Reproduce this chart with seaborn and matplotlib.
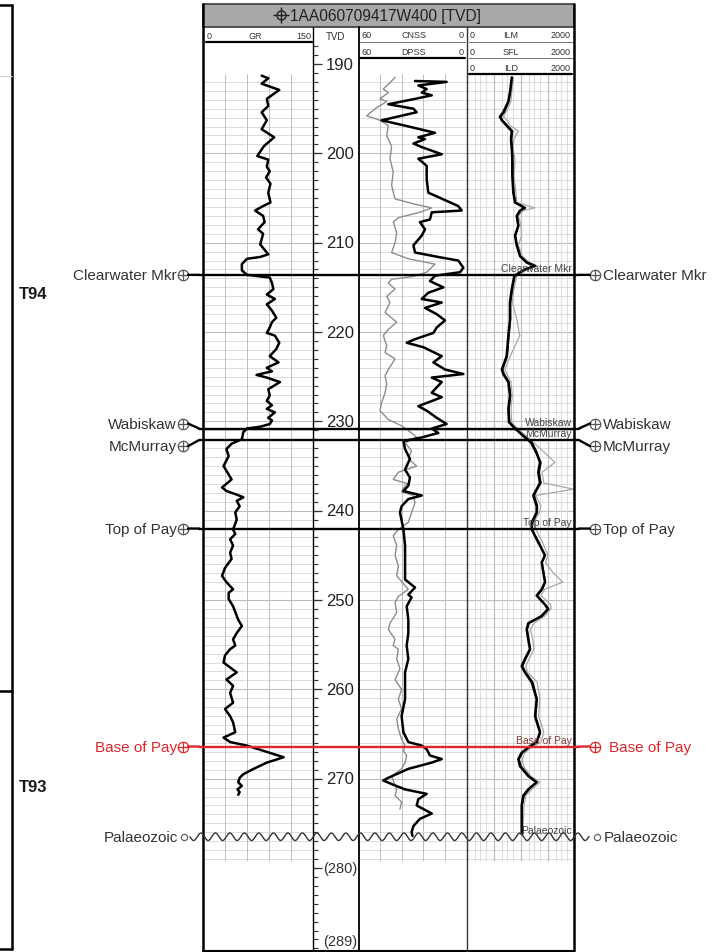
import numpy as np
import matplotlib
matplotlib.use("Agg")
import matplotlib.pyplot as plt
from matplotlib.patches import Rectangle
from matplotlib.transforms import blended_transform_factory, ScaledTranslation
import seaborn as sns

# ---------------- log curves (depth in m TVD) ----------------
gr_depth = [191.3, 191.6, 192.2, 192.9, 193.9, 194.7, 195.4, 196.3, 197.3, 198.2,
            199.2, 200.3, 200.7, 201.5, 202.0, 202.7, 203.4, 204.4, 205.5, 205.9,
            206.4, 207.0, 207.7, 208.5, 209.0, 210.2, 211.3, 211.6, 211.8, 212.4,
            213.1, 213.6, 213.9, 214.5, 215.2, 215.8, 216.3, 216.9, 217.6, 218.4,
            218.9, 219.5, 220.1, 220.4, 221.2, 221.9, 222.7, 223.4, 224.0, 224.4,
            224.8, 225.1, 225.6, 226.4, 227.1, 227.7, 228.2, 228.6, 229.0, 229.6,
            229.9, 230.3, 230.6, 230.8, 231.2, 232.0, 232.5, 233.1, 233.9, 235.0,
            236.5, 237.4, 237.8, 238.2, 238.5, 238.9, 239.5, 240.2, 241.0, 242.1,
            242.6, 243.2, 243.9, 244.7, 245.4, 246.4, 247.3, 248.0, 248.8, 249.2,
            249.9, 250.7, 252.2, 252.9, 253.7, 254.4, 255.1, 255.5, 256.2, 257.0,
            258.1, 258.9, 259.6, 260.4, 261.5, 262.2, 263.0, 263.7, 264.8, 265.4,
            265.9, 266.3, 267.0, 267.6, 268.2, 268.9, 269.5, 269.9, 270.4, 270.8,
            271.2, 271.5, 271.8]
gr_api = [80, 89, 80, 104, 87, 89, 80, 87, 80, 97,
          83, 74, 89, 87, 91, 86, 92, 89, 92, 82,
          71, 82, 84, 75, 82, 78, 89, 78, 60, 53,
          53, 60, 91, 94, 96, 87, 98, 87, 94, 100,
          94, 91, 87, 98, 104, 100, 91, 103, 87, 94,
          73, 87, 105, 89, 91, 87, 94, 87, 98, 89,
          94, 91, 78, 60, 55, 53, 39, 32, 35, 28,
          39, 26, 32, 46, 55, 46, 50, 44, 46, 41,
          44, 37, 41, 37, 39, 30, 26, 32, 41, 35,
          35, 41, 48, 53, 46, 41, 44, 37, 30, 28,
          46, 32, 41, 37, 41, 30, 37, 41, 44, 28,
          37, 60, 87, 110, 87, 69, 55, 50, 48, 53,
          47, 50, 48]

dpss_depth = [191.9, 192.0, 192.4, 192.8, 193.2, 193.5, 193.9, 194.5, 195.0, 195.4,
              196.3, 196.9, 197.7, 198.2, 198.4, 198.9, 199.3, 200.1, 200.6, 201.4,
              202.9, 204.4, 205.9, 206.4, 206.6, 207.4, 207.7, 208.5, 209.2, 210.3,
              211.1, 211.6, 212.0, 212.8, 213.3, 213.7, 214.3, 215.0, 215.6, 216.3,
              216.7, 217.3, 218.0, 218.7, 219.5, 220.1, 220.8, 221.2, 221.7, 222.7,
              223.4, 224.2, 224.7, 225.1, 225.6, 226.2, 226.8, 227.3, 228.3, 228.8,
              229.6, 230.3, 230.8, 231.3, 231.8, 232.2, 233.1, 234.2, 235.4, 236.3,
              237.2, 237.8, 238.3, 238.7, 239.5, 240.2, 241.1, 242.1, 243.9, 245.8,
              247.7, 248.6, 249.4, 249.7, 250.7, 252.2, 253.7, 255.1, 256.6, 258.1,
              259.2, 261.1, 263.0, 264.8, 265.9, 266.3, 266.7, 267.4, 267.8, 268.2,
              268.9, 269.9, 270.2, 270.6, 271.2, 271.7, 272.3, 273.0, 273.9, 274.5,
              275.3, 276.0, 276.4]
dpss = [28.6, 11.2, 26.8, 22.2, 24.9, 19.4, 28.6, 43.3, 29.5, 27.7,
        47.0, 34.1, 17.6, 26.8, 23.1, 29.5, 24.9, 13.9, 26.8, 22.2,
        22.2, 21.3, 4.8, 2.9, 19.4, 20.4, 25.9, 23.1, 24.9, 29.5,
        28.6, 15.8, 4.8, 2.0, 3.8, 17.6, 20.4, 13.0, 21.3, 24.9,
        13.9, 23.1, 16.7, 12.1, 16.7, 18.5, 28.6, 33.2, 24.0, 13.9,
        18.5, 12.1, 2.0, 19.4, 13.9, 16.7, 19.4, 13.9, 26.8, 22.2,
        16.7, 11.2, 19.4, 15.8, 24.9, 35.0, 34.1, 31.4, 34.1, 31.4,
        32.3, 35.0, 24.9, 32.3, 36.0, 36.9, 36.0, 35.0, 34.1, 34.1,
        34.1, 28.6, 32.3, 30.5, 33.2, 32.3, 32.3, 33.2, 32.3, 34.1,
        34.1, 34.1, 36.0, 35.0, 32.3, 24.9, 22.2, 20.4, 13.9, 19.4,
        32.3, 43.3, 46.1, 41.5, 34.1, 22.2, 26.8, 27.7, 19.4, 25.9,
        29.5, 30.5, 30.0]

cnss_depth = [191.5, 191.9, 192.8, 193.2, 193.9, 194.2, 195.0, 195.8, 196.3, 196.9,
              198.0, 199.2, 200.6, 202.1, 203.6, 205.1, 205.7, 206.1, 206.6, 207.2,
              207.7, 208.9, 210.0, 211.1, 211.8, 212.4, 213.3, 213.8, 214.1, 214.5,
              215.2, 216.0, 216.7, 217.8, 218.9, 219.7, 220.4, 221.5, 222.3, 223.0,
              224.2, 224.9, 225.8, 226.8, 227.9, 228.8, 229.8, 230.5, 231.3, 231.8,
              232.4, 233.3, 234.2, 235.0, 235.7, 236.5, 237.0, 237.2, 237.9, 238.3,
              239.1, 240.2, 241.3, 242.1, 242.8, 243.9, 245.0, 246.2, 247.3, 248.8,
              249.6, 250.3, 251.4, 252.6, 253.3, 254.4, 255.1, 255.5, 256.6, 257.7,
              258.9, 260.0, 261.1, 262.2, 263.3, 264.4, 265.6, 266.3, 266.9, 267.4,
              268.2, 268.9, 269.7, 270.2, 271.2, 271.9, 272.6, 273.4]
cnss = [39.6, 41.5, 46.1, 43.3, 47.9, 44.2, 50.6, 55.2, 47.9, 43.3,
        44.2, 41.5, 42.4, 40.6, 41.5, 39.6, 28.6, 19.4, 25.9, 37.8,
        40.6, 38.7, 39.6, 41.5, 32.3, 17.6, 22.2, 30.0, 41.5, 43.3,
        39.6, 44.2, 42.4, 45.1, 38.7, 43.3, 46.1, 44.2, 45.1, 39.6,
        43.3, 45.1, 44.2, 45.1, 47.0, 47.9, 43.3, 36.0, 30.5, 27.7,
        34.1, 30.5, 32.3, 27.7, 37.8, 40.6, 32.3, 34.1, 36.0, 29.5,
        28.6, 30.5, 32.3, 37.8, 40.6, 38.7, 39.6, 37.8, 38.7, 32.3,
        37.8, 39.6, 38.7, 42.4, 43.3, 39.6, 40.6, 37.8, 38.7, 36.9,
        39.6, 36.0, 37.8, 36.0, 38.7, 37.8, 36.0, 34.1, 35.0, 33.2,
        34.1, 36.0, 41.5, 40.6, 38.7, 39.6, 36.0, 36.9]

res_depth = [191.5, 193.2, 194.2, 195.4, 195.9, 196.3, 196.9, 197.5, 198.4, 199.5,
             200.6, 202.5, 204.4, 205.5, 206.1, 206.4, 207.0, 208.1, 209.2, 210.3,
             211.5, 212.2, 212.6, 213.0, 213.7, 215.2, 216.7, 218.6, 220.4, 222.7,
             224.2, 224.7, 225.6, 227.1, 228.6, 230.1, 230.8, 231.6, 232.4, 233.5,
             234.6, 235.7, 236.9, 237.6, 238.3, 239.5, 240.2, 241.3, 242.1, 243.2,
             243.9, 245.0, 245.8, 246.9, 248.0, 248.8, 249.5, 250.5, 251.0, 251.8,
             252.6, 253.3, 254.4, 255.5, 256.6, 257.4, 258.1, 259.2, 261.1, 263.0,
             264.8, 265.9, 266.5, 267.1, 267.8, 268.6, 269.7, 270.4, 271.2, 271.9,
             273.0, 274.1, 275.3, 276.2]
ild = [9.1, 7.8, 6.8, 4.4, 3.3, 3.9, 5.9, 9.1, 8.5, 9.1,
       9.5, 9.5, 10.4, 12.0, 28, 18.4, 13.9, 15.9, 12.0, 13.9,
       18.4, 32.5, 66, 28, 11.3, 9.1, 7.8, 7.8, 6.8, 5.9,
       3.9, 4.4, 6.8, 7.8, 6.8, 7.2, 12, 24.3, 50, 76,
       101, 87, 101, 76, 57, 76, 76, 50, 50, 76,
       101, 155, 117, 134, 155, 117, 76, 155, 205, 117,
       37, 32.5, 37, 43, 28, 21.2, 28, 50, 76, 66,
       101, 76, 37, 21.2, 15.9, 18.4, 37, 76, 37, 24.3,
       21.2, 21.2, 21.2, 21.2]
ilm = [9.5, 8.0, 7.0, 4.8, 3.6, 4.2, 6.3, 9.8, 9.0, 9.6,
       10.0, 10.0, 11.0, 12.5, 25, 19.5, 14.5, 16.5, 12.5, 14.5,
       19.0, 30, 55, 27, 12.0, 9.6, 8.2, 8.2, 7.2, 6.2,
       4.2, 4.8, 7.2, 8.2, 7.2, 7.6, 12.5, 22, 45, 70,
       110, 95, 110, 80, 62, 82, 80, 55, 52, 80,
       105, 150, 120, 140, 160, 125, 82, 150, 190, 110,
       40, 34, 39, 45, 30, 23, 30, 55, 80, 70,
       105, 80, 40, 23, 17, 20, 40, 70, 40, 26,
       22, 22, 22, 22]
sfl = [10.5, 9.0, 8.5, 5.5, 4.5, 6.0, 8.0, 16, 11, 10,
       12, 11, 13, 14, 66, 24, 16, 20, 21, 16,
       22, 40, 80, 35, 14, 11, 9.5, 14, 18, 8,
       5, 6, 8.5, 9.5, 8.5, 9, 15, 30, 60, 150,
       360, 120, 140, 1800, 70, 110, 95, 60, 70, 110,
       140, 200, 160, 300, 700, 150, 110, 250, 260, 150,
       60, 45, 55, 60, 40, 30, 35, 80, 100, 90,
       140, 110, 50, 28, 22, 25, 45, 100, 50, 30,
       26, 25, 24, 24]

# ---------------- picks, zones, depth scale labels ----------------
tops_names = ["Clearwater Mkr", "Wabiskaw", "McMurray", "Top of Pay", "Base of Pay", "Palaeozoic"]
tops_depth = [213.6, 230.8, 232.1, 242.0, 266.4, 276.5]
zone_names = ["T94", "T93"]
zone_label_depth = [215.7, 270.9]
zone_boundary_depth = 260.2
tvd_labels = [190, 200, 210, 220, 230, 240, 250, 260, 270]
tvd_bracket_labels = ["(280)", "(289)"]
tvd_bracket_depth = [280, 289]
well_name = "1AA060709417W400 [TVD]"

# ---------------- layout ----------------
W, H = 719, 953
TOP_PX, BOT_PX = 46, 952
D_TOP, D_BOT = 187.87, 289.29
GRID_TOP, GRID_BOT = 191.1, 279.2

sns.set_style("white")
plt.rcParams["font.family"] = ["Liberation Sans", "DejaVu Sans"]

fig = plt.figure(figsize=(W / 100, H / 100), dpi=100)
fig.patch.set_facecolor("white")


def track(x0, x1):
    ax = fig.add_axes([x0 / W, 1 - BOT_PX / H, (x1 - x0) / W, (BOT_PX - TOP_PX) / H])
    ax.set_facecolor("none")
    return ax


ax_gr = track(203, 313)
ax_tvd = track(313, 358)
ax_nd = track(358, 467)
ax_res = track(467, 575)
ax_res.set_xscale("log")

limits = {ax_gr: (0, 150), ax_tvd: (0, 1), ax_nd: (60, 0), ax_res: (0.2, 2000)}
for ax, xl in limits.items():
    ax.set_xlim(*xl)
    ax.set_ylim(D_BOT, D_TOP)

GRID_C = "#d6d6d6"
GRID_C2 = "#bdbdbd"
rows = np.arange(192, 280)
for ax in (ax_gr, ax_nd, ax_res):
    lo, hi = ax.get_xlim()
    ax.hlines(rows, lo, hi, color=GRID_C, lw=0.6, zorder=0)
    ax.hlines(rows[rows % 10 == 0], lo, hi, color=GRID_C2, lw=0.8, zorder=0)
ax_gr.vlines([30, 60, 90, 120], GRID_TOP, GRID_BOT, color=GRID_C2, lw=0.7, zorder=0)
ax_nd.vlines([12, 24, 36, 48], GRID_TOP, GRID_BOT, color=GRID_C2, lw=0.7, zorder=0)
for dec in (0.2, 2, 20, 200):
    for m in (1, 2, 3, 5):
        v = dec * m
        if 0.2 < v < 2000:
            strong = m == 1
            ax_res.vlines(v, GRID_TOP, GRID_BOT, color=GRID_C2 if strong else GRID_C,
                          lw=0.9 if strong else 0.6, zorder=0)

# curves
sns.lineplot(x=gr_api, y=gr_depth, orient="y", sort=False, estimator=None,
             ax=ax_gr, color="black", lw=1.8)
sns.lineplot(x=cnss, y=cnss_depth, orient="y", sort=False, estimator=None,
             ax=ax_nd, color="#8c8c8c", lw=1.0)
sns.lineplot(x=dpss, y=dpss_depth, orient="y", sort=False, estimator=None,
             ax=ax_nd, color="black", lw=1.8)
sns.lineplot(x=sfl, y=res_depth, orient="y", sort=False, estimator=None,
             ax=ax_res, color="#a8a8a8", lw=0.9)
sns.lineplot(x=ilm, y=res_depth, orient="y", sort=False, estimator=None,
             ax=ax_res, color="#222222", lw=1.1)
sns.lineplot(x=ild, y=res_depth, orient="y", sort=False, estimator=None,
             ax=ax_res, color="black", lw=1.8)

# TVD depth ticks and labels
ticks = np.arange(188, 290)
ax_tvd.hlines(ticks, 0, 5 / 45, color="#333333", lw=0.8)
ax_tvd.hlines(tvd_labels + [280], 0, 9 / 45, color="#333333", lw=0.9)
for d in tvd_labels:
    ax_tvd.text(13 / 45, d, str(d), ha="left", va="center", fontsize=12, color="#222222")
ax_tvd.text(10 / 45, tvd_bracket_depth[0], tvd_bracket_labels[0], ha="left", va="center",
            fontsize=10.5, color="#333333")
ax_tvd.text(10 / 45, tvd_bracket_depth[1], tvd_bracket_labels[1], ha="left", va="bottom",
            fontsize=10.5, color="#333333")

for ax, xl in limits.items():
    ax.set_xlim(*xl)
    ax.set_ylim(D_BOT, D_TOP)
    ax.set_axis_off()

# ---------------- overlay in pixel space ----------------
over = fig.add_axes([0, 0, 1, 1], zorder=10)
over.set_xlim(0, W)
over.set_ylim(H, 0)
over.set_axis_off()
over.patch.set_alpha(0)
dtr = blended_transform_factory(over.transData, ax_gr.transData)

# title bar
over.add_patch(Rectangle((203, 5), 371, 23, fc="#a8a8a8", ec="#3a3a3a", lw=1.2))
over.plot([281], [15.5], marker="o", ms=6.5, mfc="none", mec="#222222", mew=1.0)
over.plot([281], [15.5], marker="+", ms=11, mec="#222222", mew=1.0)
over.text(290, 16, well_name, ha="left", va="center", fontsize=11.2, color="#222222")

# panel frame and track dividers
over.plot([203, 203], [5, 952], color="black", lw=1.8)
over.plot([574, 574], [5, 952], color="black", lw=1.8)
over.plot([203, 574], [952, 952], color="black", lw=1.5)
over.plot([313, 313], [28, 952], color="black", lw=1.0)
over.plot([358.5, 358.5], [28, 952], color="black", lw=1.3)
over.plot([467, 467], [28, 952], color="#333333", lw=1.0)

# header scales
hs = dict(fontsize=6.5, color="#333333", va="center")
over.text(207, 36.5, "0", ha="left", **hs)
over.text(255, 36.5, "GR", ha="center", **hs)
over.text(311, 36.5, "150", ha="right", **hs)
over.plot([206, 312], [43, 43], color="black", lw=1.6)
over.text(335, 36.5, "TVD", ha="center", fontsize=7, color="#333333", va="center")
for yy, name, lw_, c in ((36, "CNSS", 0.8, "#777777"), (52.5, "DPSS", 1.6, "black")):
    over.text(361, yy, "60", ha="left", **hs)
    over.text(414, yy, name, ha="center", **hs)
    over.text(464, yy, "0", ha="right", **hs)
    over.plot([360, 465], [yy + 6.5, yy + 6.5], color=c, lw=lw_)
for yy, name, lw_, c in ((36, "ILM", 0.8, "#777777"), (52.5, "SFL", 0.8, "#777777"),
                         (68.5, "ILD", 1.6, "black")):
    over.text(470, yy, "0", ha="left", **hs)
    over.text(511, yy, name, ha="center", **hs)
    over.text(571, yy, "2000", ha="right", **hs)
    over.plot([469, 572], [yy + 6.5, yy + 6.5], color=c, lw=lw_)

# zone column on the left
over.plot([12, 12], [6, 950], color="black", lw=1.8)
over.plot([0, 12], [6, 6], color="black", lw=1.8)
over.plot([0, 12], [950, 950], color="black", lw=1.8)
over.plot([0, 12], [77, 77], color="#cccccc", lw=0.8)
over.plot([0, 12], [zone_boundary_depth, zone_boundary_depth], transform=dtr,
          color="black", lw=1.8)
for name, d in zip(zone_names, zone_label_depth):
    over.text(19, d, name, transform=dtr, ha="left", va="center", fontsize=12,
              fontweight="bold", color="#1a1a1a")

# formation picks; closely spaced picks get their side labels nudged apart
label_nudge_px = {"Wabiskaw": 5, "McMurray": -6}
RED = "#e0262b"
for name, d in zip(tops_names, tops_depth):
    c = RED if name == "Base of Pay" else "black"
    tc = RED if name == "Base of Pay" else "#333333"
    mc = RED if name == "Base of Pay" else "#555555"
    s = label_nudge_px.get(name, 0)
    ltr = dtr + ScaledTranslation(0, s / 100, fig.dpi_scale_trans)
    if name == "Palaeozoic":
        xs = np.linspace(190, 589, 900)
        wave = d + 0.42 * np.sin(2 * np.pi * (xs - 190) / 14.5)
        over.plot(xs, wave, transform=dtr, color="#333333", lw=1.0)
        for xm in (184, 597):
            over.plot([xm], [d], transform=dtr, marker="o", ms=4.5, mfc="white",
                      mec="#666666", mew=0.9)
        over.text(178, d, name, transform=dtr, ha="right", va="center", fontsize=11, color=tc)
        over.text(604, d, name, transform=dtr, ha="left", va="center", fontsize=11, color=tc)
    else:
        over.plot([199, 579], [d, d], transform=dtr, color=c, lw=1.7)
        for x_end, dx in ((199, -11), (579, 11)):
            over.annotate("", xy=(x_end, d), xycoords=dtr, xytext=(dx, s),
                          textcoords="offset pixels",
                          arrowprops=dict(arrowstyle="-", color=c, lw=1.7,
                                          shrinkA=0, shrinkB=0))
        for xm in (183, 595):
            over.plot([xm], [d], transform=ltr, marker="o", ms=7.5, mfc="white",
                      mec=mc, mew=0.9)
            over.plot([xm], [d], transform=ltr, marker="+", ms=7.5, mec=mc, mew=0.9)
        over.text(177, d, name, transform=ltr, ha="right", va="center", fontsize=11, color=tc)
        over.text(603 if name != "Base of Pay" else 609, d, name, transform=ltr,
                  ha="left", va="center", fontsize=11, color=tc)
    over.annotate(name, xy=(572, d), xycoords=dtr, xytext=(0, 1.2), textcoords="offset points",
                  ha="right", va="bottom", fontsize=7.5,
                  color="#8a3a3a" if name == "Base of Pay" else "#444444")

fig.savefig("out.png", dpi=100, facecolor="white")
